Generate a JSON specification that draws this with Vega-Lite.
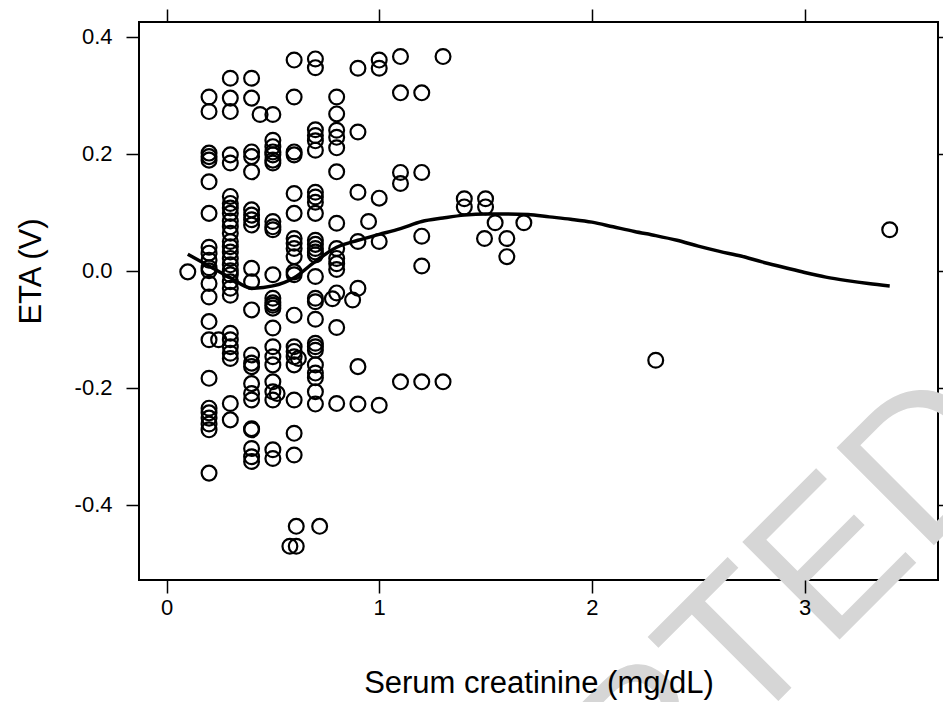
{
  "$schema": "https://vega.github.io/schema/vega-lite/v6.json",
  "width": 799,
  "height": 558,
  "autosize": {"type": "none"},
  "padding": {"left": 139, "top": 22, "right": 5, "bottom": 122},
  "background": "white",
  "config": {
    "view": {"stroke": "black", "strokeWidth": 2},
    "font": "Liberation Sans",
    "axis": {
      "domain": false, "grid": false, "tickColor": "black", "tickWidth": 1.5, "tickSize": 13,
      "labelColor": "black", "titleColor": "black", "labelFont": "Liberation Sans", "titleFont": "Liberation Sans",
      "labelFontSize": 22, "titleFontSize": 31, "titleFontWeight": "normal", "zindex": 2
    }
  },
  "datasets": {
    "pts": [
      {"creat":0.1,"eta":-0.002},
      {"creat":0.2,"eta":0.297},{"creat":0.2,"eta":0.272},{"creat":0.2,"eta":0.201},{"creat":0.2,"eta":0.195},{"creat":0.2,"eta":0.189},{"creat":0.2,"eta":0.152},{"creat":0.2,"eta":0.098},{"creat":0.2,"eta":0.04},{"creat":0.2,"eta":0.03},{"creat":0.2,"eta":0.018},{"creat":0.2,"eta":0.005},{"creat":0.2,"eta":0.0},{"creat":0.2,"eta":-0.022},{"creat":0.2,"eta":-0.045},{"creat":0.2,"eta":-0.087},{"creat":0.2,"eta":-0.118},{"creat":0.2,"eta":-0.184},{"creat":0.2,"eta":-0.235},{"creat":0.2,"eta":-0.243},{"creat":0.2,"eta":-0.252},{"creat":0.2,"eta":-0.262},{"creat":0.2,"eta":-0.272},{"creat":0.2,"eta":-0.346},
      {"creat":0.245,"eta":-0.118},
      {"creat":0.3,"eta":0.329},{"creat":0.3,"eta":0.295},{"creat":0.3,"eta":0.272},{"creat":0.3,"eta":0.198},{"creat":0.3,"eta":0.184},{"creat":0.3,"eta":0.127},{"creat":0.3,"eta":0.115},{"creat":0.3,"eta":0.107},{"creat":0.3,"eta":0.098},{"creat":0.3,"eta":0.085},{"creat":0.3,"eta":0.075},{"creat":0.3,"eta":0.064},{"creat":0.3,"eta":0.05},{"creat":0.3,"eta":0.041},{"creat":0.3,"eta":0.032},{"creat":0.3,"eta":0.021},{"creat":0.3,"eta":0.01},{"creat":0.3,"eta":0.0},{"creat":0.3,"eta":-0.007},{"creat":0.3,"eta":-0.019},{"creat":0.3,"eta":-0.03},{"creat":0.3,"eta":-0.042},{"creat":0.3,"eta":-0.107},{"creat":0.3,"eta":-0.118},{"creat":0.3,"eta":-0.13},{"creat":0.3,"eta":-0.141},{"creat":0.3,"eta":-0.15},{"creat":0.3,"eta":-0.227},{"creat":0.3,"eta":-0.255},
      {"creat":0.4,"eta":0.329},{"creat":0.4,"eta":0.295},{"creat":0.4,"eta":0.203},{"creat":0.4,"eta":0.195},{"creat":0.4,"eta":0.169},{"creat":0.4,"eta":0.104},{"creat":0.4,"eta":0.095},{"creat":0.4,"eta":0.087},{"creat":0.4,"eta":0.078},{"creat":0.4,"eta":0.004},{"creat":0.4,"eta":-0.019},{"creat":0.4,"eta":-0.067},{"creat":0.4,"eta":-0.144},{"creat":0.4,"eta":-0.158},{"creat":0.4,"eta":-0.164},{"creat":0.4,"eta":-0.193},{"creat":0.4,"eta":-0.21},{"creat":0.4,"eta":-0.221},{"creat":0.4,"eta":-0.27},{"creat":0.4,"eta":-0.272},{"creat":0.4,"eta":-0.304},{"creat":0.4,"eta":-0.318},{"creat":0.4,"eta":-0.326},
      {"creat":0.44,"eta":0.267},
      {"creat":0.5,"eta":0.267},{"creat":0.5,"eta":0.223},{"creat":0.5,"eta":0.212},{"creat":0.5,"eta":0.203},{"creat":0.5,"eta":0.198},{"creat":0.5,"eta":0.189},{"creat":0.5,"eta":0.184},{"creat":0.5,"eta":0.084},{"creat":0.5,"eta":0.075},{"creat":0.5,"eta":0.07},{"creat":0.5,"eta":-0.007},{"creat":0.5,"eta":-0.047},{"creat":0.5,"eta":-0.055},{"creat":0.5,"eta":-0.059},{"creat":0.5,"eta":-0.064},{"creat":0.5,"eta":-0.098},{"creat":0.5,"eta":-0.13},{"creat":0.5,"eta":-0.147},{"creat":0.5,"eta":-0.161},{"creat":0.5,"eta":-0.19},{"creat":0.5,"eta":-0.207},{"creat":0.5,"eta":-0.221},{"creat":0.5,"eta":-0.306},{"creat":0.5,"eta":-0.321},
      {"creat":0.52,"eta":-0.21},
      {"creat":0.6,"eta":0.36},{"creat":0.6,"eta":0.297},{"creat":0.6,"eta":0.203},{"creat":0.6,"eta":0.198},{"creat":0.6,"eta":0.132},{"creat":0.6,"eta":0.098},{"creat":0.6,"eta":0.055},{"creat":0.6,"eta":0.047},{"creat":0.6,"eta":0.038},{"creat":0.6,"eta":0.024},{"creat":0.6,"eta":-0.002},{"creat":0.6,"eta":-0.007},{"creat":0.6,"eta":-0.076},{"creat":0.6,"eta":-0.13},{"creat":0.6,"eta":-0.138},{"creat":0.6,"eta":-0.147},{"creat":0.6,"eta":-0.161},{"creat":0.6,"eta":-0.221},{"creat":0.6,"eta":-0.278},{"creat":0.6,"eta":-0.315},
      {"creat":0.61,"eta":-0.437},{"creat":0.58,"eta":-0.471},{"creat":0.61,"eta":-0.471},{"creat":0.62,"eta":-0.15},{"creat":0.72,"eta":-0.437},
      {"creat":0.7,"eta":0.362},{"creat":0.7,"eta":0.347},{"creat":0.7,"eta":0.241},{"creat":0.7,"eta":0.231},{"creat":0.7,"eta":0.222},{"creat":0.7,"eta":0.206},{"creat":0.7,"eta":0.134},{"creat":0.7,"eta":0.126},{"creat":0.7,"eta":0.117},{"creat":0.7,"eta":0.098},{"creat":0.7,"eta":0.052},{"creat":0.7,"eta":0.045},{"creat":0.7,"eta":0.038},{"creat":0.7,"eta":0.032},{"creat":0.7,"eta":0.027},{"creat":0.7,"eta":-0.01},{"creat":0.7,"eta":-0.047},{"creat":0.7,"eta":-0.053},{"creat":0.7,"eta":-0.083},{"creat":0.7,"eta":-0.124},{"creat":0.7,"eta":-0.13},{"creat":0.7,"eta":-0.136},{"creat":0.7,"eta":-0.161},{"creat":0.7,"eta":-0.175},{"creat":0.7,"eta":-0.183},{"creat":0.7,"eta":-0.207},{"creat":0.7,"eta":-0.228},
      {"creat":0.8,"eta":0.297},{"creat":0.8,"eta":0.268},{"creat":0.8,"eta":0.24},{"creat":0.8,"eta":0.228},{"creat":0.8,"eta":0.21},{"creat":0.8,"eta":0.169},{"creat":0.8,"eta":0.081},{"creat":0.8,"eta":0.038},{"creat":0.8,"eta":0.021},{"creat":0.8,"eta":0.012},{"creat":0.8,"eta":0.002},{"creat":0.8,"eta":-0.038},{"creat":0.8,"eta":-0.097},{"creat":0.8,"eta":-0.227},
      {"creat":0.78,"eta":-0.048},
      {"creat":0.9,"eta":0.346},{"creat":0.9,"eta":0.237},{"creat":0.9,"eta":0.134},{"creat":0.9,"eta":0.05},{"creat":0.9,"eta":-0.03},{"creat":0.9,"eta":-0.164},{"creat":0.9,"eta":-0.228},
      {"creat":0.95,"eta":0.084},{"creat":0.875,"eta":-0.05},
      {"creat":1.0,"eta":0.36},{"creat":1.0,"eta":0.346},{"creat":1.0,"eta":0.124},{"creat":1.0,"eta":0.05},{"creat":1.0,"eta":-0.23},
      {"creat":1.1,"eta":0.366},{"creat":1.1,"eta":0.304},{"creat":1.1,"eta":0.168},{"creat":1.1,"eta":0.149},{"creat":1.1,"eta":-0.19},
      {"creat":1.2,"eta":0.304},{"creat":1.2,"eta":0.168},{"creat":1.2,"eta":0.059},{"creat":1.2,"eta":0.008},{"creat":1.2,"eta":-0.19},
      {"creat":1.3,"eta":0.366},{"creat":1.3,"eta":-0.19},
      {"creat":1.4,"eta":0.123},{"creat":1.4,"eta":0.109},{"creat":1.5,"eta":0.123},{"creat":1.5,"eta":0.109},
      {"creat":1.545,"eta":0.082},{"creat":1.68,"eta":0.082},{"creat":1.495,"eta":0.055},{"creat":1.6,"eta":0.055},{"creat":1.6,"eta":0.024},
      {"creat":2.3,"eta":-0.153},{"creat":3.4,"eta":0.07}
    ],
    "smooth": [
      {"creat":0.1,"eta":0.028},{"creat":0.2,"eta":0.008},{"creat":0.3,"eta":-0.012},{"creat":0.4,"eta":-0.03},{"creat":0.5,"eta":-0.026},{"creat":0.6,"eta":-0.012},{"creat":0.7,"eta":0.016},{"creat":0.8,"eta":0.04},{"creat":0.9,"eta":0.052},{"creat":1.0,"eta":0.062},{"creat":1.1,"eta":0.072},{"creat":1.2,"eta":0.084},{"creat":1.3,"eta":0.09},{"creat":1.4,"eta":0.095},{"creat":1.5,"eta":0.097},{"creat":1.6,"eta":0.097},{"creat":1.7,"eta":0.096},{"creat":1.8,"eta":0.092},{"creat":1.9,"eta":0.088},{"creat":2.0,"eta":0.083},{"creat":2.1,"eta":0.075},{"creat":2.2,"eta":0.067},{"creat":2.3,"eta":0.06},{"creat":2.4,"eta":0.052},{"creat":2.5,"eta":0.042},{"creat":2.6,"eta":0.033},{"creat":2.7,"eta":0.025},{"creat":2.8,"eta":0.015},{"creat":2.9,"eta":0.006},{"creat":3.0,"eta":-0.003},{"creat":3.1,"eta":-0.011},{"creat":3.2,"eta":-0.017},{"creat":3.3,"eta":-0.022},{"creat":3.4,"eta":-0.026}
    ],
    "mark": [{"label":"ACCEPTED"}]
  },
  "layer": [
    {
      "data": {"name": "mark"},
      "mark": {"type": "text", "angle": -45, "fontSize": 200, "font": "Liberation Sans", "color": "#d6d6d6", "align": "center", "baseline": "middle"},
      "encoding": {
        "x": {"datum": 2.024, "type": "quantitative", "scale": {"domain": [-0.1293, 3.627], "nice": false, "zero": false}, "axis": null},
        "y": {"datum": -0.9, "type": "quantitative", "scale": {"domain": [-0.5287, 0.4251], "nice": false, "zero": false}, "axis": null},
        "text": {"field": "label"}
      }
    },
    {
      "data": {"name": "pts"},
      "mark": {"type": "point", "shape": "circle", "filled": false, "stroke": "black", "strokeWidth": 2.2, "size": 220, "opacity": 1},
      "encoding": {
        "x": {"field": "creat", "type": "quantitative", "scale": {"domain": [-0.1293, 3.627], "nice": false, "zero": false},
              "axis": {"orient": "bottom", "zindex": 2, "values": [0, 1, 2, 3], "labelPadding": 4, "title": "Serum creatinine (mg/dL)", "titleBaseline": "alphabetic", "titleY": 112}},
        "y": {"field": "eta", "type": "quantitative", "scale": {"domain": [-0.5287, 0.4251], "nice": false, "zero": false},
              "axis": {"orient": "left", "zindex": 2, "values": [-0.4, -0.2, 0, 0.2, 0.4], "labelPadding": 14,
                       "labelExpr": "datum.value < 0 ? '-' + format(-datum.value, '.1f') : format(datum.value, '.1f')",
                       "title": "ETA (V)", "titleBaseline": "alphabetic", "titleAngle": -90, "titleX": -99, "titleY": 249}}
      }
    },
    {
      "data": {"name": "smooth"},
      "mark": {"type": "line", "color": "black", "strokeWidth": 3.5, "interpolate": "monotone"},
      "encoding": {
        "x": {"field": "creat", "type": "quantitative", "scale": {"domain": [-0.1293, 3.627], "nice": false, "zero": false},
              "axis": {"orient": "top", "zindex": 2, "values": [0, 1, 2, 3], "labels": false, "title": null}},
        "y": {"field": "eta", "type": "quantitative", "scale": {"domain": [-0.5287, 0.4251], "nice": false, "zero": false},
              "axis": {"orient": "right", "zindex": 2, "values": [-0.4, -0.2, 0, 0.2, 0.4], "labels": false, "title": null}}
      }
    }
  ],
  "resolve": {"axis": {"x": "independent", "y": "independent"}}
}
